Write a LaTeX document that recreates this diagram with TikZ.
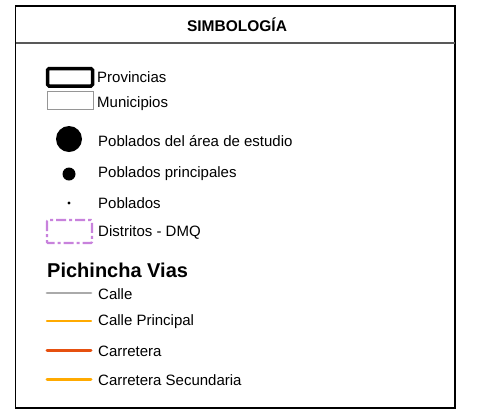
\documentclass[tikz,border=0pt]{standalone}
\usepackage{fontspec}
\setmainfont{Liberation Sans}
\definecolor{calle}{RGB}{170,170,170}
\definecolor{naranja}{RGB}{255,170,0}
\definecolor{carretera}{RGB}{230,80,15}
\definecolor{distrito}{RGB}{200,130,220}
\definecolor{munic}{RGB}{150,150,150}
\tikzset{
  lbl/.style={anchor=west, inner sep=0pt, font=\fontsize{15}{17}\selectfont},
  roadline/.style={line cap=round},
}
\begin{document}
\begin{tikzpicture}[x=1pt,y=-1pt]
\useasboundingbox (0,0) rectangle (478,416);
% frame
\draw[line width=1.6pt] (15.5,6) rectangle (455,408);
\draw[line width=2pt, black!65] (15.5,43) -- (455,43);
\node[font=\bfseries\fontsize{15.5}{17}\selectfont, inner sep=0pt] (title) at (237,25) {SIMBOLOGÍA};
% Provincias
\draw[line width=3.5pt, rounded corners=1.5pt] (47.5,68.5) rectangle (92.5,86);
\node[lbl] (prov) at (97,77) {Provincias};
% Municipios
\draw[line width=1pt, munic] (47,91) rectangle (93,109);
\node[lbl] (mun) at (97,104) {Municipios};
% Poblados
\fill (69,139) circle (13);
\node[lbl] (pob1) at (98,141) {Poblados del área de estudio};
\fill (69,174) circle (6.5);
\node[lbl] (pob2) at (98,174) {Poblados principales};
\fill (69,203) circle (1.6);
\node[lbl] (pob3) at (98,203) {Poblados};
% Distritos
\draw[distrito, line width=2.2pt, rounded corners=1pt, dash pattern=on 10pt off 3pt on 3pt off 3pt] (47,220) rectangle (92,243);
\node[lbl] (dist) at (98,232) {Distritos - DMQ};
% Vias
\node[anchor=west, inner sep=0pt, font=\bfseries\fontsize{20}{22}\selectfont] (vias) at (47,270) {Pichincha Vias};
\draw[roadline, calle, line width=2.7pt] (47,293) -- (91,293);
\node[lbl] (c1) at (98,294) {Calle};
\draw[roadline, naranja, line width=2.3pt] (47,321) -- (91,321);
\node[lbl] (c2) at (98,322) {Calle Principal};
\draw[roadline, carretera, line width=3pt] (47,350) -- (91,350);
\node[lbl] (c3) at (98,351) {Carretera};
\draw[roadline, naranja, line width=3pt] (47,379) -- (91,379);
\node[lbl] (c4) at (98,380) {Carretera Secundaria};
\end{tikzpicture}
\end{document}
